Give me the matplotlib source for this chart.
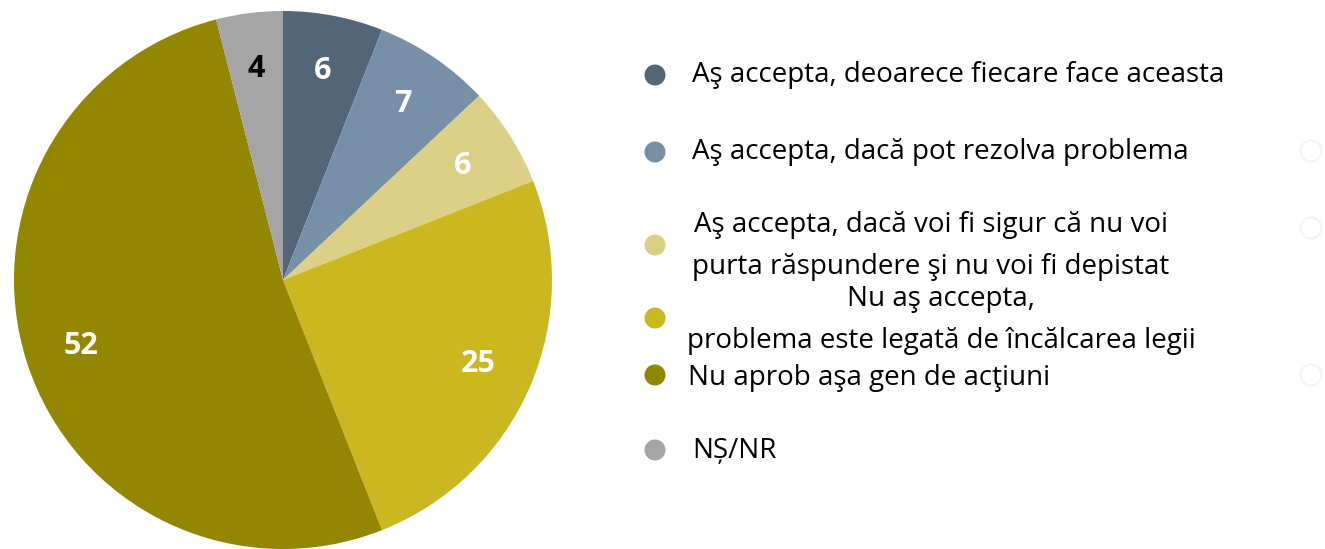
import matplotlib
matplotlib.use("Agg")
import matplotlib.pyplot as plt
from matplotlib.patches import Ellipse

plt.rcParams['font.family'] = ['Open Sans', 'DejaVu Sans']

categories = [
    "Aş accepta, deoarece fiecare face aceasta",
    "Aş accepta, dacă pot rezolva problema",
    "Aş accepta, dacă voi fi sigur că nu voi\npurta răspundere şi nu voi fi depistat",
    "Nu aş accepta,\nproblema este legată de încălcarea legii",
    "Nu aprob aşa gen de acţiuni",
    "NȘ/NR",
]
values = [6, 7, 6, 25, 52, 4]
colors = ["#536677", "#7790a8", "#dccf86", "#cbb820", "#938600", "#a5a5a5"]
label_colors = ["white", "white", "white", "white", "white", "black"]

W, H = 1325, 549
fig = plt.figure(figsize=(W / 100, H / 100), dpi=100)

cx, cy, R = 283, 280, 269
ax = fig.add_axes([(cx - R) / W, (H - cy - R) / H, 2 * R / W, 2 * R / H])
wedges, texts, autotexts = ax.pie(values, colors=colors, startangle=90, counterclock=False,
                                  radius=1, autopct='%1.0f', pctdistance=0.79,
                                  wedgeprops=dict(linewidth=0))
for t, v, c in zip(autotexts, values, label_colors):
    t.set_text(str(v))
    t.set_color(c)
    t.set_fontsize(22)
    t.set_fontweight('bold')
ax.set_xlim(-1, 1)
ax.set_ylim(-1, 1)
ax.set_aspect('equal')
ax.axis('off')

# legend drawn manually
marker_y = [75, 152, 245, 318, 375, 450]
text_y = [75, 152, 246, 320, 378, 451]
text_x = [692, 692, 931, 941, 688, 692]
text_ha = ['left', 'left', 'center', 'center', 'left', 'left']
for my, ty, tx, ha, c, lab in zip(marker_y, text_y, text_x, text_ha, colors, categories):
    fig.patches.append(Ellipse((655 / W, 1 - my / H), 21 / W, 21 / H, transform=fig.transFigure,
                               facecolor=c, edgecolor='none'))
    fig.text(tx / W, 1 - ty / H, lab, ha=ha, va='center', fontsize=20,
             color='black', linespacing=1.65, multialignment='center')

# faint artefact circles on the far right
for fy in [151, 228, 375]:
    fig.patches.append(Ellipse((1311 / W, 1 - fy / H), 21 / W, 21 / H, transform=fig.transFigure,
                               facecolor='none', edgecolor='#f2f2f2', linewidth=1.2))

fig.savefig("out.png", dpi=100, facecolor='white')
